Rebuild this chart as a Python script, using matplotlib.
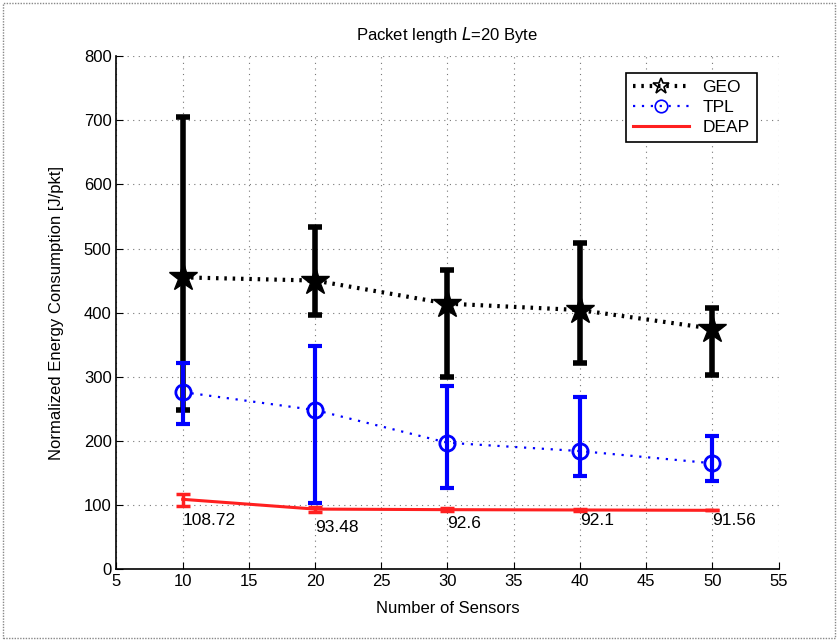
import matplotlib.pyplot as plt
from matplotlib.lines import Line2D
from matplotlib.patches import Rectangle
import numpy as np

plt.rcParams['font.family'] = ['Liberation Sans', 'DejaVu Sans']

sensors = [10, 20, 30, 40, 50]

geo_mean = [455, 450, 414, 404, 375]
geo_low = [248, 397, 300, 321, 302]
geo_high = [705, 533, 467, 508, 407]

tpl_mean = [276, 248, 197, 184, 165]
tpl_low = [226, 103, 126, 145, 137]
tpl_high = [321, 348, 285, 268, 208]

deap_mean = [108.72, 93.48, 92.6, 92.1, 91.56]
deap_low = [99, 89, 90, 90, 91.56]
deap_high = [117, 97, 95, 94, 91.56]
deap_labels = ["108.72", "93.48", "92.6", "92.1", "91.56"]


def errs(mean, low, high):
    mean = np.array(mean)
    return [mean - np.array(low), np.array(high) - mean]


fig = plt.figure(figsize=(8.38, 6.41), dpi=100)
ax = fig.add_axes([0.139, 0.1123, 0.790, 0.800])

# GEO
ax.errorbar(sensors, geo_mean, yerr=errs(geo_mean, geo_low, geo_high),
            fmt='none', ecolor='black', elinewidth=4, capsize=5, capthick=4, zorder=3)
ax.plot(sensors, geo_mean, linestyle=(0, (0.6, 1.4)), color='black', linewidth=3,
        marker='*', markersize=21, markerfacecolor='black', zorder=4)

# TPL
ax.errorbar(sensors, tpl_mean, yerr=errs(tpl_mean, tpl_low, tpl_high),
            fmt='none', ecolor='#0000ff', elinewidth=3, capsize=5, capthick=3, zorder=5)
ax.plot(sensors, tpl_mean, linestyle=(0, (1, 3)), color='#0000ff', linewidth=1.6,
        marker='o', markersize=11, markerfacecolor='none', markeredgewidth=2, zorder=6)

# DEAP
ax.errorbar(sensors, deap_mean, yerr=errs(deap_mean, deap_low, deap_high),
            fmt='none', ecolor='#ff2020', elinewidth=2.5, capsize=5, capthick=2.5, zorder=7)
ax.plot(sensors, deap_mean, linestyle='-', color='#ff2020', linewidth=2.2, zorder=8)

label_dy = [-33, -28, -21, -16, -16]
for x, y, s, dy in zip(sensors, deap_mean, deap_labels, label_dy):
    ax.text(x, y + dy, s, ha='left', va='center', fontsize=12.5, zorder=9)

ax.set_xlim(5, 55)
ax.set_ylim(0, 800)
ax.set_xticks(np.arange(5, 56, 5))
ax.set_yticks(np.arange(0, 801, 100))
ax.tick_params(direction='in', length=5, labelsize=12, top=False, right=False)
ax.spines['top'].set_visible(False)
ax.spines['right'].set_visible(False)
ax.spines['left'].set_linewidth(1.2)
ax.spines['bottom'].set_linewidth(1.2)
ax.grid(True, linestyle=(0, (1, 4)), color='#777777', linewidth=0.8)
ax.set_axisbelow(True)

ax.set_xlabel("Number of Sensors", fontsize=12, labelpad=9)
ax.set_ylabel("Normalized Energy Consumption [J/pkt]", fontsize=12, labelpad=14)
ax.set_title("Packet length $\\mathit{L}$=20 Byte", fontsize=12, pad=12)

handles = [
    Line2D([], [], linestyle=(0, (0.6, 1.4)), color='black', linewidth=3,
           marker='*', markersize=12, markerfacecolor='none', markeredgewidth=1.2),
    Line2D([], [], linestyle=(0, (1, 3)), color='#0000ff', linewidth=1.6,
           marker='o', markersize=9, markerfacecolor='none', markeredgewidth=1.2),
    Line2D([], [], linestyle='-', color='#ff2020', linewidth=2.2),
]
leg = ax.legend(handles, ["GEO", "TPL", "DEAP"], loc='upper right',
                bbox_to_anchor=(0.98, 0.985), fontsize=12.5, fancybox=False,
                framealpha=1, edgecolor='black', handlelength=3.2,
                borderpad=0.4, labelspacing=0.3)
leg.get_frame().set_linewidth(1.2)

fig.patches.append(Rectangle((0.003, 0.004), 0.994, 0.992, transform=fig.transFigure,
                             fill=False, edgecolor='#888888', linestyle=(0, (1, 1)),
                             linewidth=1))

fig.savefig("out.png", dpi=100)
